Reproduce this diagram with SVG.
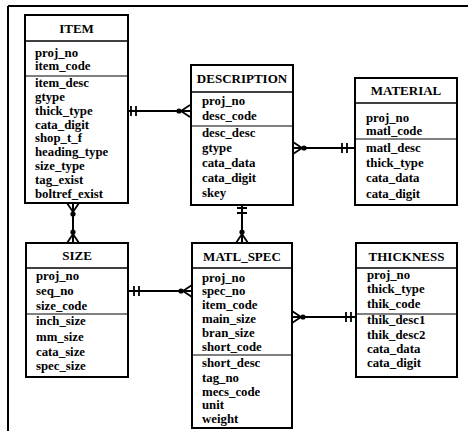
<svg xmlns="http://www.w3.org/2000/svg" xmlns:xlink="http://www.w3.org/1999/xlink" width="468" height="431" viewBox="0 0 468 431">
<style>
.box{fill:#fff;stroke:#000;stroke-width:2}
.hd{stroke:#000;stroke-width:1.6}
.kd{stroke:#000;stroke-width:1.1}
.t{font-family:"Liberation Serif","Times New Roman",serif;font-weight:bold;font-size:13px;text-anchor:middle;fill:#000}
.f{font-family:"Liberation Serif","Times New Roman",serif;font-weight:bold;font-size:12.8px;fill:#000}
.ln{stroke:#000;stroke-width:2;fill:none}
</style>
<defs>
<g id="crow"><path d="M-9,0 L0,-6 M-9,0 L0,0 M-9,0 L0,6" stroke="#000" stroke-width="1.8" fill="none"/><circle cx="-11" cy="0" r="2.6" fill="#000"/></g>
<g id="bars"><path d="M0,-5 V5 M5,-5 V5" stroke="#000" stroke-width="1.8" fill="none"/></g>
</defs>
<rect width="468" height="431" fill="#fff"/>
<g id="frame"><path d="M8,6 H468 M8,6 V431" stroke="#000" stroke-width="2" fill="none"/></g>

<g id="connectors">
<path class="ln" d="M128,111 H190"/>
<use xlink:href="#bars" transform="translate(131,111)"/>
<use xlink:href="#crow" transform="translate(190,111)"/>
<path class="ln" d="M293,148 H355"/>
<use xlink:href="#crow" transform="translate(293,148) rotate(180)"/>
<use xlink:href="#bars" transform="translate(342,148)"/>
<path class="ln" d="M73,203 V243"/>
<use xlink:href="#crow" transform="translate(73,203) rotate(-90)"/>
<use xlink:href="#crow" transform="translate(73,243) rotate(90)"/>
<path class="ln" d="M242,205 V243"/>
<use xlink:href="#bars" transform="translate(242,208) rotate(90)"/>
<use xlink:href="#crow" transform="translate(242,243) rotate(90)"/>
<path class="ln" d="M128,291 H192"/>
<use xlink:href="#bars" transform="translate(134,291)"/>
<use xlink:href="#crow" transform="translate(192,291)"/>
<path class="ln" d="M292,317 H356"/>
<use xlink:href="#crow" transform="translate(292,317) rotate(180)"/>
<use xlink:href="#bars" transform="translate(346,317)"/>
</g>

<g id="item">
<rect class="box" x="25" y="15" width="103" height="188"/>
<line class="hd" x1="25" y1="41" x2="128" y2="41"/>
<line class="kd" x1="25" y1="76" x2="128" y2="76"/>
<text class="t" x="76.5" y="33">ITEM</text>
<text class="f" x="35" y="57">proj_no</text>
<text class="f" x="35" y="70">item_code</text>
<text class="f" x="35" y="87">item_desc</text>
<text class="f" x="35" y="101">gtype</text>
<text class="f" x="35" y="115">thick_type</text>
<text class="f" x="35" y="129">cata_digit</text>
<text class="f" x="35" y="142">shop_t_f</text>
<text class="f" x="35" y="156">heading_type</text>
<text class="f" x="35" y="170">size_type</text>
<text class="f" x="35" y="184">tag_exist</text>
<text class="f" x="35" y="198">boltref_exist</text>
</g>

<g id="description">
<rect class="box" x="191" y="65" width="102" height="140"/>
<line class="hd" x1="191" y1="92" x2="293" y2="92"/>
<line class="kd" x1="191" y1="126" x2="293" y2="126"/>
<text class="t" x="242" y="83">DESCRIPTION</text>
<text class="f" x="202" y="105">proj_no</text>
<text class="f" x="202" y="120">desc_code</text>
<text class="f" x="202" y="137">desc_desc</text>
<text class="f" x="202" y="152">gtype</text>
<text class="f" x="202" y="167">cata_data</text>
<text class="f" x="202" y="182">cata_digit</text>
<text class="f" x="202" y="197">skey</text>
</g>

<g id="material">
<rect class="box" x="355" y="78" width="102" height="127"/>
<line class="hd" x1="355" y1="103" x2="457" y2="103"/>
<line class="kd" x1="355" y1="139" x2="457" y2="139"/>
<text class="t" x="406" y="95">MATERIAL</text>
<text class="f" x="366" y="122">proj_no</text>
<text class="f" x="366" y="135">matl_code</text>
<text class="f" x="366" y="152">matl_desc</text>
<text class="f" x="366" y="167">thick_type</text>
<text class="f" x="366" y="182">cata_data</text>
<text class="f" x="366" y="198">cata_digit</text>
</g>

<g id="size">
<rect class="box" x="26" y="243" width="102" height="134"/>
<line class="hd" x1="26" y1="268" x2="128" y2="268"/>
<line class="kd" x1="26" y1="314" x2="128" y2="314"/>
<text class="t" x="77" y="260">SIZE</text>
<text class="f" x="36" y="280">proj_no</text>
<text class="f" x="36" y="295">seq_no</text>
<text class="f" x="36" y="310">size_code</text>
<text class="f" x="36" y="325">inch_size</text>
<text class="f" x="36" y="341">mm_size</text>
<text class="f" x="36" y="356">cata_size</text>
<text class="f" x="36" y="370">spec_size</text>
</g>

<g id="matl_spec">
<rect class="box" x="192" y="243" width="100" height="185"/>
<line class="hd" x1="192" y1="268" x2="292" y2="268"/>
<line class="kd" x1="192" y1="355" x2="292" y2="355"/>
<text class="t" x="242" y="261">MATL_SPEC</text>
<text class="f" x="202" y="282">proj_no</text>
<text class="f" x="202" y="295">spec_no</text>
<text class="f" x="202" y="309">item_code</text>
<text class="f" x="202" y="323">main_size</text>
<text class="f" x="202" y="337">bran_size</text>
<text class="f" x="202" y="351">short_code</text>
<text class="f" x="202" y="367">short_desc</text>
<text class="f" x="202" y="382">tag_no</text>
<text class="f" x="202" y="396">mecs_code</text>
<text class="f" x="202" y="409">unit</text>
<text class="f" x="202" y="423">weight</text>
</g>

<g id="thickness">
<rect class="box" x="356" y="243" width="101" height="134"/>
<line class="hd" x1="356" y1="268" x2="457" y2="268"/>
<line class="kd" x1="356" y1="314" x2="457" y2="314"/>
<text class="t" x="406.5" y="261">THICKNESS</text>
<text class="f" x="367" y="279">proj_no</text>
<text class="f" x="367" y="293">thick_type</text>
<text class="f" x="367" y="308">thik_code</text>
<text class="f" x="367" y="324">thik_desc1</text>
<text class="f" x="367" y="339">thik_desc2</text>
<text class="f" x="367" y="353">cata_data</text>
<text class="f" x="367" y="367">cata_digit</text>
</g>
</svg>
